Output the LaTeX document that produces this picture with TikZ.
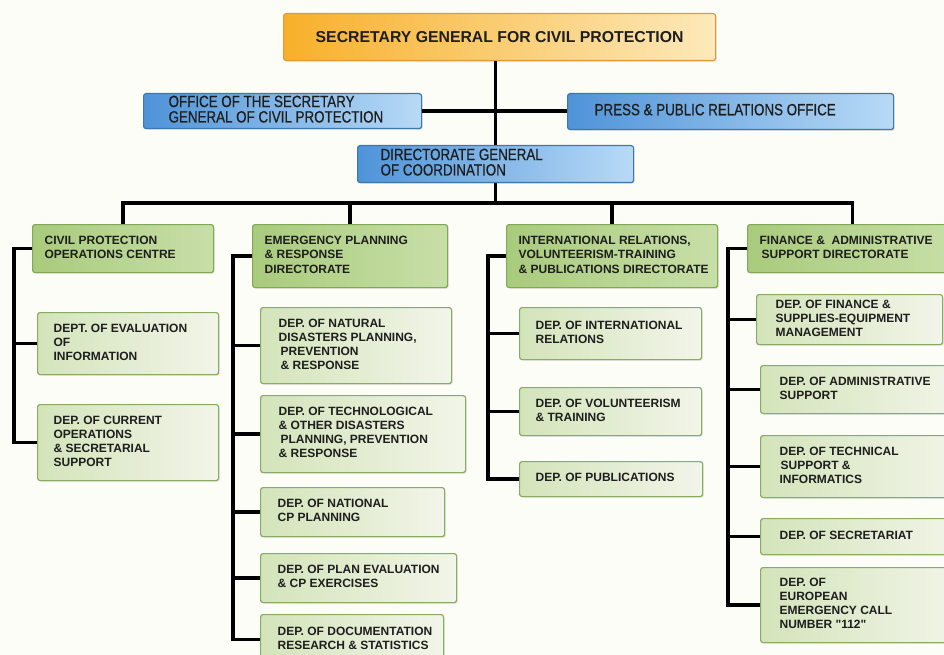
\documentclass[tikz,border=0pt]{standalone}
\usepackage{fontspec}
\newfontfamily\mainf{Liberation Sans}
\newfontfamily\narrowfont[FakeStretch=0.82,FakeBold=0.6]{Liberation Sans}
\usetikzlibrary{shadows}
\definecolor{bg}{HTML}{FDFDF8}
\definecolor{titl}{HTML}{F8B02A}
\definecolor{titr}{HTML}{FDE9BB}
\definecolor{titb}{HTML}{E39A35}
\definecolor{blul}{HTML}{4F93D8}
\definecolor{blur}{HTML}{B8DAF6}
\definecolor{blub}{HTML}{3D77B0}
\definecolor{dirl}{HTML}{A9CB7C}
\definecolor{dirr}{HTML}{C8DFA8}
\definecolor{dirb}{HTML}{7FA955}
\definecolor{depl}{HTML}{D3E4BA}
\definecolor{depr}{HTML}{F2F5E9}
\definecolor{depb}{HTML}{88AD62}
\definecolor{txt}{HTML}{1E1E1E}
\newcommand\tb[2]{\makebox[#1][l]{\begin{tabular}{@{}l@{}}#2\end{tabular}}}
\begin{document}
\begin{tikzpicture}[x=1pt,y=-1pt,
  base/.style={draw, rounded corners=2.5pt, line width=1.2pt, anchor=north west,
    inner ysep=0pt, text=txt,
    drop shadow={opacity=0.18, shadow xshift=1.2pt, shadow yshift=-1.2pt}},
  titlebox/.style={base, draw=titb, left color=titl, right color=titr,
    font=\mainf\fontsize{15.8}{18}\selectfont\bfseries, inner xsep=0pt},
  bluebox/.style={base, draw=blub, left color=blul, right color=blur,
    font=\narrowfont\fontsize{16.3}{13.5}\selectfont},
  dirbox/.style={base, draw=dirb, left color=dirl, right color=dirr,
    font=\mainf\fontsize{12}{14.3}\selectfont\bfseries, inner xsep=12pt},
  deptbox/.style={base, draw=depb, left color=depl, right color=depr,
    font=\mainf\fontsize{12}{14}\selectfont\bfseries},
  conn/.style={draw=black, line width=3.4pt}]
\useasboundingbox (0,0) rectangle (944,655);
\clip (0,0) rectangle (944,655);
\fill[bg] (0,0) rectangle (944,655);

% top level
\node[titlebox, minimum width=432pt, minimum height=47pt] (t) at (283,13) {SECRETARY GENERAL FOR CIVIL PROTECTION};
\node[bluebox, inner xsep=25pt, minimum width=278pt, minimum height=35pt] (off) at (143,93)
  {\tb{228pt}{OFFICE OF THE SECRETARY\\GENERAL OF CIVIL PROTECTION}};
\node[bluebox, inner xsep=27pt, minimum width=326pt, minimum height=36pt] (pr) at (567,93)
  {\tb{272pt}{PRESS \& PUBLIC RELATIONS OFFICE}};
\node[bluebox, inner xsep=23pt, minimum width=276pt, minimum height=37pt] (dg) at (357,145)
  {\tb{230pt}{DIRECTORATE GENERAL\\OF COORDINATION}};

% directorates
\node[dirbox, minimum width=181pt, minimum height=48pt] (cpoc) at (32,224)
  {\tb{157pt}{CIVIL PROTECTION\\OPERATIONS CENTRE}};
\node[dirbox, minimum width=195pt, minimum height=63pt] (ep) at (252,224)
  {\tb{171pt}{EMERGENCY PLANNING\\\& RESPONSE\\DIRECTORATE}};
\node[dirbox, minimum width=211pt, minimum height=63pt] (ir) at (506,224)
  {\tb{187pt}{INTERNATIONAL RELATIONS,\\VOLUNTEERISM-TRAINING\\\& PUBLICATIONS DIRECTORATE}};
\node[dirbox, minimum width=210pt, minimum height=48pt] (fa) at (747,224)
  {\tb{186pt}{FINANCE \&\ \ ADMINISTRATIVE\\\hspace*{2pt}SUPPORT DIRECTORATE}};

% column 1
\node[deptbox, inner xsep=16pt, minimum width=181pt, minimum height=62pt] (eval) at (37,312)
  {\tb{149pt}{DEPT. OF EVALUATION\\OF\\INFORMATION}};
\node[deptbox, inner xsep=16pt, minimum width=181pt, minimum height=76pt] (cur) at (37,404)
  {\tb{149pt}{DEP. OF CURRENT\\OPERATIONS\\\& SECRETARIAL\\SUPPORT}};

% column 2
\node[deptbox, inner xsep=18pt, minimum width=191pt, minimum height=76pt] (nat) at (260,307)
  {\tb{155pt}{DEP. OF NATURAL\\DISASTERS PLANNING,\\\hspace*{2pt}PREVENTION\\\hspace*{2pt}\& RESPONSE}};
\node[deptbox, inner xsep=18pt, minimum width=205pt, minimum height=77pt] (tech) at (260,395)
  {\tb{169pt}{DEP. OF TECHNOLOGICAL\\\& OTHER DISASTERS\\\hspace*{2pt}PLANNING, PREVENTION\\\& RESPONSE}};
\node[deptbox, inner xsep=17pt, minimum width=184pt, minimum height=49pt] (natl) at (260,487)
  {\tb{150pt}{DEP. OF NATIONAL\\CP PLANNING}};
\node[deptbox, inner xsep=17pt, minimum width=196pt, minimum height=49pt] (plan) at (260,553)
  {\tb{162pt}{DEP. OF PLAN EVALUATION\\\& CP EXERCISES}};
\node[deptbox, inner xsep=17pt, minimum width=183pt, minimum height=50pt] (doc) at (260,614)
  {\tb{149pt}{DEP. OF DOCUMENTATION\\RESEARCH \& STATISTICS}};

% column 3
\node[deptbox, inner xsep=16pt, minimum width=182pt, minimum height=52pt] (irel) at (519,307)
  {\tb{150pt}{DEP. OF INTERNATIONAL\\RELATIONS}};
\node[deptbox, inner xsep=16pt, minimum width=182pt, minimum height=48pt] (vol) at (519,387)
  {\tb{150pt}{DEP. OF VOLUNTEERISM\\\& TRAINING}};
\node[deptbox, inner xsep=16pt, minimum width=183pt, minimum height=35pt] (pub) at (519,461)
  {\tb{151pt}{DEP. OF PUBLICATIONS}};

% column 4
\node[deptbox, inner xsep=19pt, minimum width=186pt, minimum height=50pt] (fin) at (756,294)
  {\tb{148pt}{DEP. OF FINANCE \&\\SUPPLIES-EQUIPMENT\\MANAGEMENT}};
\node[deptbox, inner xsep=19pt, minimum width=200pt, minimum height=48pt] (adm) at (760,365)
  {\tb{162pt}{DEP. OF ADMINISTRATIVE\\SUPPORT}};
\node[deptbox, inner xsep=19pt, minimum width=200pt, minimum height=62pt] (techn) at (760,435)
  {\tb{162pt}{DEP. OF TECHNICAL\\\hspace*{1pt}SUPPORT \&\\INFORMATICS}};
\node[deptbox, inner xsep=19pt, minimum width=200pt, minimum height=36pt] (secr) at (760,518)
  {\tb{162pt}{DEP. OF SECRETARIAT}};
\node[deptbox, inner xsep=19pt, minimum width=200pt, minimum height=75pt] (euro) at (760,567)
  {\tb{162pt}{DEP. OF\\EUROPEAN\\EMERGENCY CALL\\NUMBER "112"}};

% spine coordinates
\coordinate (bus) at (496,203);
\coordinate (s1) at (14,0);
\coordinate (s2) at (233,0);
\coordinate (s3) at (488,0);
\coordinate (s4) at (728,0);

% connectors
\draw[conn] (t.south -| dg.north) -- (dg.north);
\draw[conn] (off.east) -- (off.east -| pr.west);
\draw[conn] (dg.south) -- (dg.south |- bus);
\draw[conn] (cpoc.north) -- (cpoc.north |- bus) -- (fa.north |- bus) -- (fa.north);
\draw[conn] (ep.north) -- (ep.north |- bus);
\draw[conn] (ir.north) -- (ir.north |- bus);

\draw[conn] (cpoc.west) -- (cpoc.west -| s1) |- (cur.west);
\draw[conn] (eval.west) -- (eval.west -| s1);

\draw[conn] (ep.west) -- (ep.west -| s2) |- (doc.west);
\draw[conn] (nat.west) -- (nat.west -| s2);
\draw[conn] (tech.west) -- (tech.west -| s2);
\draw[conn] (natl.west) -- (natl.west -| s2);
\draw[conn] (plan.west) -- (plan.west -| s2);

\draw[conn] (ir.west) -- (ir.west -| s3) |- (pub.west);
\draw[conn] (irel.west) -- (irel.west -| s3);
\draw[conn] (vol.west) -- (vol.west -| s3);

\draw[conn] (fa.west) -- (fa.west -| s4) |- (euro.west);
\draw[conn] (fin.west) -- (fin.west -| s4);
\draw[conn] (adm.west) -- (adm.west -| s4);
\draw[conn] (techn.west) -- (techn.west -| s4);
\draw[conn] (secr.west) -- (secr.west -| s4);
\end{tikzpicture}
\end{document}
